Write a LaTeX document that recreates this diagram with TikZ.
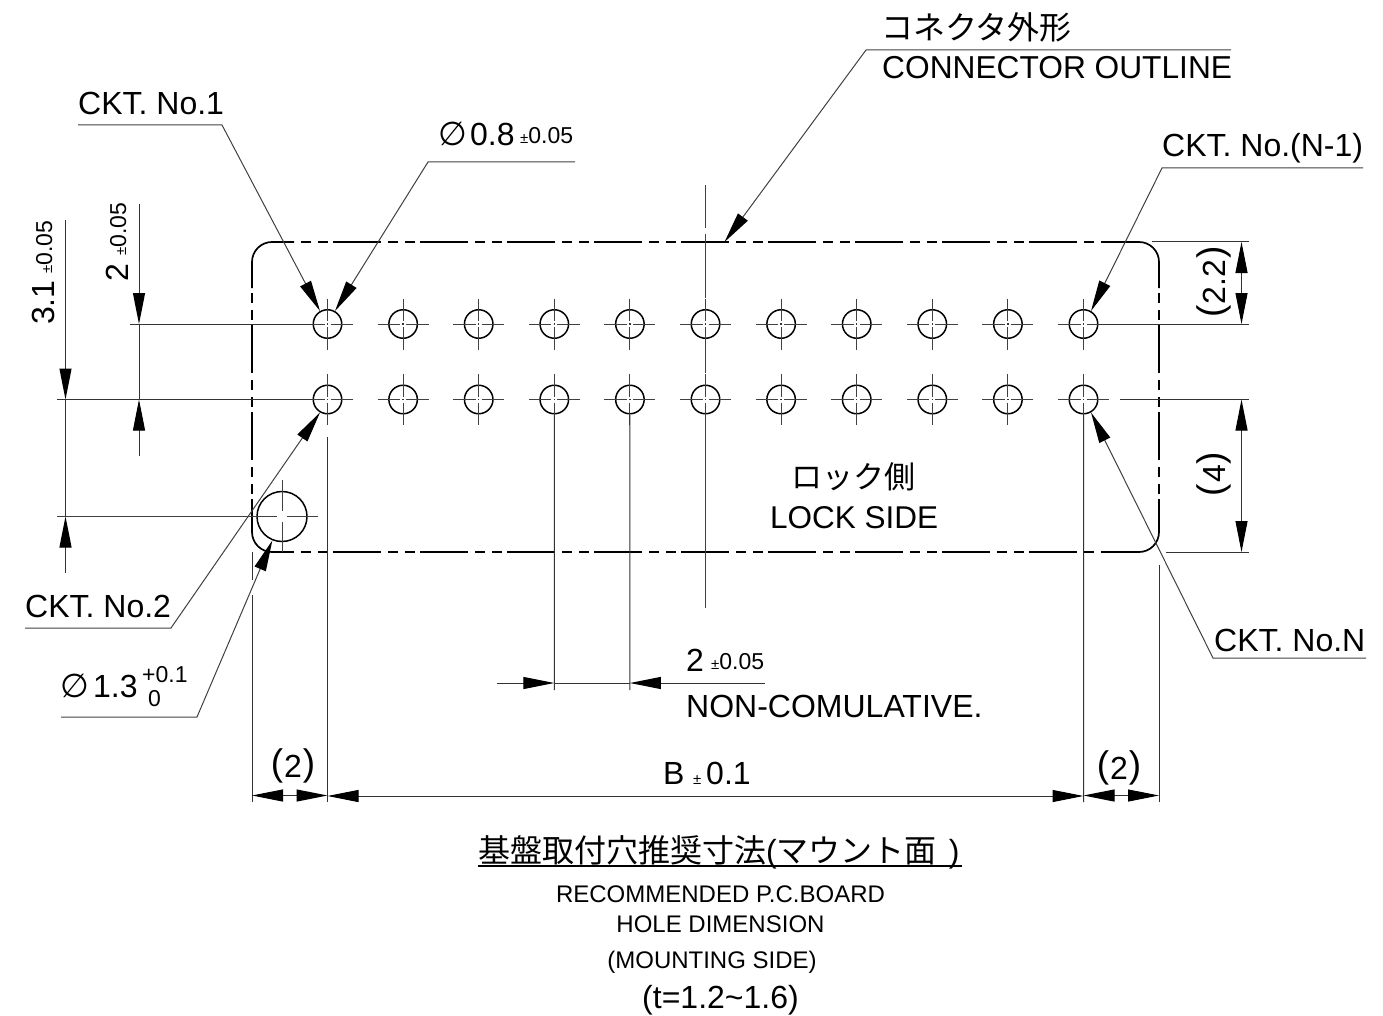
\documentclass[tikz,border=0pt]{standalone}
\usepackage{fontspec}
\setmainfont{Liberation Sans}
\newfontfamily\cjk{Noto Sans CJK JP}
\newfontfamily\symf{DejaVu Sans}
\usetikzlibrary{arrows.meta,calc}
\newcommand{\fbig}{\fontsize{32}{36}\selectfont}
\newcommand{\fsml}{\fontsize{23}{26}\selectfont}
\newcommand{\fmed}{\fontsize{24}{28}\selectfont}
\newcommand{\pmt}{{\fontsize{15}{18}\selectfont ±}}
\newcommand{\lpar}{\raisebox{2pt}{\fontsize{37}{40}\selectfont(}}
\newcommand{\rpar}{\raisebox{2pt}{\fontsize{37}{40}\selectfont)}}
\tikzset{
  >={Triangle[length=31pt,width=12pt,color=black,fill=black]},
  thinl/.style={line width=1pt,black!75},
  dimn/.style={line width=1pt,black!80},
  outl/.style={line width=1.7pt,black},
  outd/.style={outl,dash pattern=on 48pt off 7pt on 10pt off 7pt on 10pt off 5pt},
  holec/.style={circle,draw,line width=1.5pt,minimum size=28.5pt,inner sep=0pt,fill=none},
  bigc/.style={circle,draw,line width=1.5pt,minimum size=50pt,inner sep=0pt},
  lbl/.style={anchor=base west,inner sep=0pt,font=\fbig},
  slbl/.style={anchor=base west,inner sep=0pt,font=\fsml},
  clbl/.style={anchor=base,inner sep=0pt,font=\fmed},
}
\begin{document}
\begin{tikzpicture}[x=1pt,y=-1pt]
\useasboundingbox (0,0) rectangle (1383,1016);
% connector outline
\draw[outd,dash phase=26pt] (272,242) -- (1139,242);
\draw[outd,dash phase=26pt] (272,552) -- (1139,552);
\draw[outd,dash phase=24pt] (252,262) -- (252,532);
\draw[outd,dash phase=24pt] (1159,262) -- (1159,532);
\draw[outl,rounded corners=20pt] (252,288) -- (252,242) -- (294,242);
\draw[outl,rounded corners=20pt] (1110,242) -- (1159,242) -- (1159,288);
\draw[outl,rounded corners=20pt] (252,513) -- (252,552) -- (290,552);
\draw[outl,rounded corners=20pt] (1159,513) -- (1159,552) -- (1110,552);
% holes
\foreach \n in {1,...,11}{
  \pgfmathsetmacro{\hx}{327.5+(\n-1)*75.6}
  \node[holec] (ht\n) at (\hx,324) {};
  \node[holec] (hb\n) at (\hx,399.5) {};
  \foreach \rw in {324,399.5}{
    \draw[thinl] (\hx-25.5,\rw) -- (\hx-3,\rw) (\hx+3,\rw) -- (\hx+25.5,\rw);
    \draw[thinl] (\hx,\rw-25.5) -- (\hx,\rw-3) (\hx,\rw+3) -- (\hx,\rw+25.5);
    \fill[black!80] (\hx-0.7,\rw-0.7) rectangle (\hx+0.7,\rw+0.7);
  }
}
\node[bigc] (bh) at (282,516.5) {};
\draw[thinl] (57,516.5) -- (277,516.5) (287,516.5) -- (318,516.5);
\draw[thinl] (282,480) -- (282,511) (282,522) -- (282,552);
% centre line
\draw[thinl] (705.5,185) -- (705.5,228) (705.5,234) -- (705.5,298);
\draw[thinl] (705.5,350) -- (705.5,373) (705.5,425) -- (705.5,608);
% extension lines
\draw[dimn] (130,324) -- (ht1.west);
\draw[dimn] (ht11.east) -- (1249,324);
\draw[dimn] (57,399.5) -- (hb1.west);
\coordinate (rx) at (1120,399.5);
\draw[dimn] (rx) -- (1249,399.5);
\draw[dimn] (1152,242) -- (1249,242);
\draw[dimn] (1166,552) -- (1249,552);
\draw[dimn] (hb1.center) ++(0,37.5) -- (327.5,802);
\draw[dimn] (hb11.south) -- (1083.5,802);
\draw[dimn] (hb4.south) -- (554.3,690);
\draw[dimn] (hb5.south) -- (629.9,690);
\draw[dimn] (252,552) -- (252,580) (252,595) -- (252,802);
\draw[dimn] (1159,565) -- (1159,802);
% dimension lines
\draw[dimn] (139,204) -- (139,293);
\draw[dimn,->] (139,285) -- (139,324);
\draw[dimn,<-] (139,399.5) -- (139,456);
\draw[dimn] (139,324) -- (139,399.5);
\draw[dimn] (65.5,220) -- (65.5,360);
\draw[dimn,->] (65.5,360) -- (65.5,399.5);
\draw[dimn] (65.5,399.5) -- (65.5,516.5);
\draw[dimn,<-] (65.5,516.5) -- (65.5,573);
\draw[dimn,<->] (1241.5,242) -- (1241.5,324);
\draw[dimn,<->] (1241.5,399.5) -- (1241.5,552);
\draw[dimn,<->] (252,795.5) -- (327.5,795.5);
\draw[dimn,<->] (327.5,796) -- (1083.5,796);
\draw[dimn,<->] (1083.5,795.5) -- (1159,795.5);
\draw[dimn,->] (497,683) -- (554.3,683);
\draw[dimn] (554.3,683) -- (629.9,683);
\draw[dimn,<-] (629.9,683) -- (765,683);
% leaders
\draw[thinl,->] (78,125) -- (222,125) -- (ht1.120);
\draw[thinl,->] (575,162) -- (428,162) -- (ht1.60);
\draw[thinl,->] (1363,168) -- (1162,168) -- (ht11.60);
\draw[thinl,->] (1366,658) -- (1213,658) -- (hb11.-60);
\draw[thinl,->] (25,628) -- (171,628) -- (hb1.-120);
\draw[thinl,->] (61,717) -- (197,717) -- (bh.-112);
\coordinate (outtip) at (724.5,242);
\draw[thinl,->] (1231,50) -- (866,50) -- (outtip);
% texts
\node[anchor=base west,inner sep=0pt] (t1) at (881,40) {\fbig\cjk コネクタ外形};
\node[anchor=base west,inner sep=0pt,font=\fontsize{31.7}{36}\selectfont] (t2) at (882,78.5) {CONNECTOR OUTLINE};
\node[lbl] (t3) at (78,114.5) {CKT. No.1};
\node[anchor=base west,inner sep=0pt] (t4a) at (438,146) {\fontsize{33}{36}\selectfont\symf ∅};
\node[lbl] (t4) at (470,146) {0.8};
\node[slbl] (t4b) at (520,144) {\pmt 0.05};
\node[lbl] (t5) at (1162,157) {CKT. No.(N-1)};
\node[lbl] (t6) at (25,617) {CKT. No.2};
\node[lbl] (t7) at (1214,651) {CKT. No.N};
\node[anchor=base west,inner sep=0pt] (t8a) at (60,697) {\fontsize{33}{36}\selectfont\symf ∅};
\node[lbl] (t8) at (93,697) {1.3};
\node[slbl] (t8b) at (142,682) {+0.1};
\node[slbl] (t8c) at (148,706) {0};
\node[anchor=base west,inner sep=0pt] (t9) at (791,488) {\fontsize{31}{36}\selectfont\cjk ロック側};
\node[anchor=base west,inner sep=0pt,font=\fontsize{31.5}{36}\selectfont] (t10) at (770,528) {LOCK SIDE};
\node[lbl] (t11) at (686,671) {2};
\node[slbl] (t11b) at (711,669) {\pmt 0.05};
\node[lbl] (t12) at (686,717) {NON-COMULATIVE.};
\node[lbl] (t13) at (663,784) {B};
\node[lbl] (t13b) at (693,784) {\pmt};
\node[lbl] (t13c) at (706,784) {0.1};
\node[anchor=base,inner sep=0pt,font=\fbig] (t14) at (293,777) {\lpar\kern1pt 2\kern1pt\rpar};
\node[anchor=base,inner sep=0pt,font=\fbig] (t15) at (1119,779) {\lpar\kern1pt 2\kern1pt\rpar};
\node[anchor=base,inner sep=0pt,font=\fbig,rotate=90] (t16) at (1225,282) {\lpar\kern1pt 2.2\kern1pt\rpar};
\node[anchor=base,inner sep=0pt,font=\fbig,rotate=90] (t17) at (1225,474) {\lpar\kern1pt 4\kern1pt\rpar};
\node[lbl,rotate=90] (t18) at (54,325) {3.1};
\node[slbl,rotate=90] (t18b) at (52,274) {\pmt 0.05};
\node[lbl,rotate=90] (t19) at (128,282) {2};
\node[slbl,rotate=90] (t19b) at (126,256) {\pmt 0.05};
\node[anchor=base west,inner sep=0pt] (t20) at (478,862) {\fbig\cjk 基盤取付穴推奨寸法\rmfamily(\cjk マウント面\rmfamily\kern3pt\ )};
\draw[line width=1.5pt] (478,866) -- (962,866);
\node[clbl] (t21) at (720.5,902) {RECOMMENDED P.C.BOARD};
\node[clbl] (t22) at (720.5,932) {HOLE DIMENSION};
\node[clbl] (t23) at (712,968) {(MOUNTING SIDE)};
\node[anchor=base,inner sep=0pt,font=\fontsize{32}{36}\selectfont] (t24) at (720.5,1008) {(t=1.2\textasciitilde1.6)};
\end{tikzpicture}
\end{document}
